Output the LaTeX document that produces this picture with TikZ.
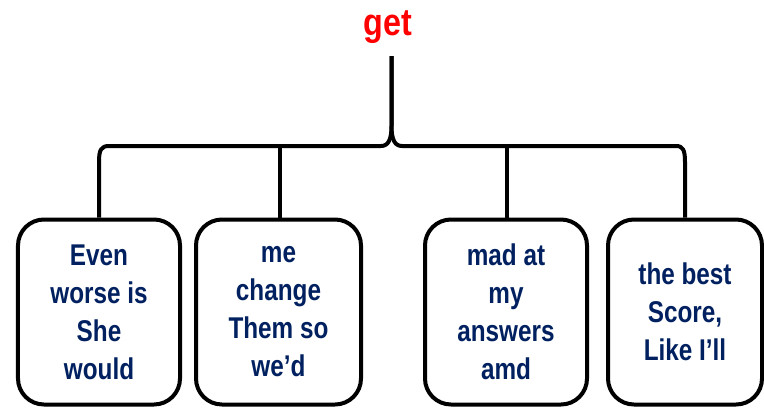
\documentclass[tikz,border=0pt]{standalone}
\usepackage{fontspec}
\setmainfont{Liberation Sans}
\newfontfamily\boxfont[FakeStretch=0.81]{Liberation Sans}
\newfontfamily\titlefont[FakeStretch=0.85]{Liberation Sans}
\definecolor{navy}{RGB}{0,32,96}
\begin{document}
\begin{tikzpicture}[x=1bp,y=-1bp,line join=round,
  box/.style={draw=black, line width=4bp, rounded corners=26bp,
    minimum width=#1, minimum height=185bp, inner sep=0pt, align=center,
    text=navy, font=\boxfont\bfseries\fontsize{30bp}{38bp}\selectfont},
  wire/.style={draw=black, line width=4bp}]
\useasboundingbox (0,0) rectangle (764,410);
\node[anchor=base, text=red, font=\titlefont\bfseries\fontsize{38bp}{44bp}\selectfont] (title) at (388,35) {get};
\node[box=162bp] (b1) at (99,312) {Even\\worse is\\She\\would};
\node[box=165bp] (b2) at (278.5,312) {me\\change\\Them so\\we’d};
\node[box=162bp] (b3) at (506,312) {mad at\\my\\answers\\amd};
\node[box=154bp] (b4) at (685,312) {the best\\Score,\\Like I’ll};
\coordinate (tip) at (391.5,56);
\coordinate (j2) at (280,146);
\coordinate (j3) at (507,146);
\draw[wire] (b1.north) -- (99,162) .. controls (99,150) and (101,146) .. (109,146)
  -- (381,146) .. controls (388,146) and (391.5,140) .. (391.5,126) -- (tip);
\draw[wire] (tip) -- (391.5,126) .. controls (391.5,140) and (395,146) .. (402,146)
  -- (676,146) .. controls (683,146) and (685,150) .. (685,162) -- (b4.north);
\draw[wire] (j2) -- (j2 |- b2.north);
\draw[wire] (j3) -- (j3 |- b3.north);
\end{tikzpicture}
\end{document}
